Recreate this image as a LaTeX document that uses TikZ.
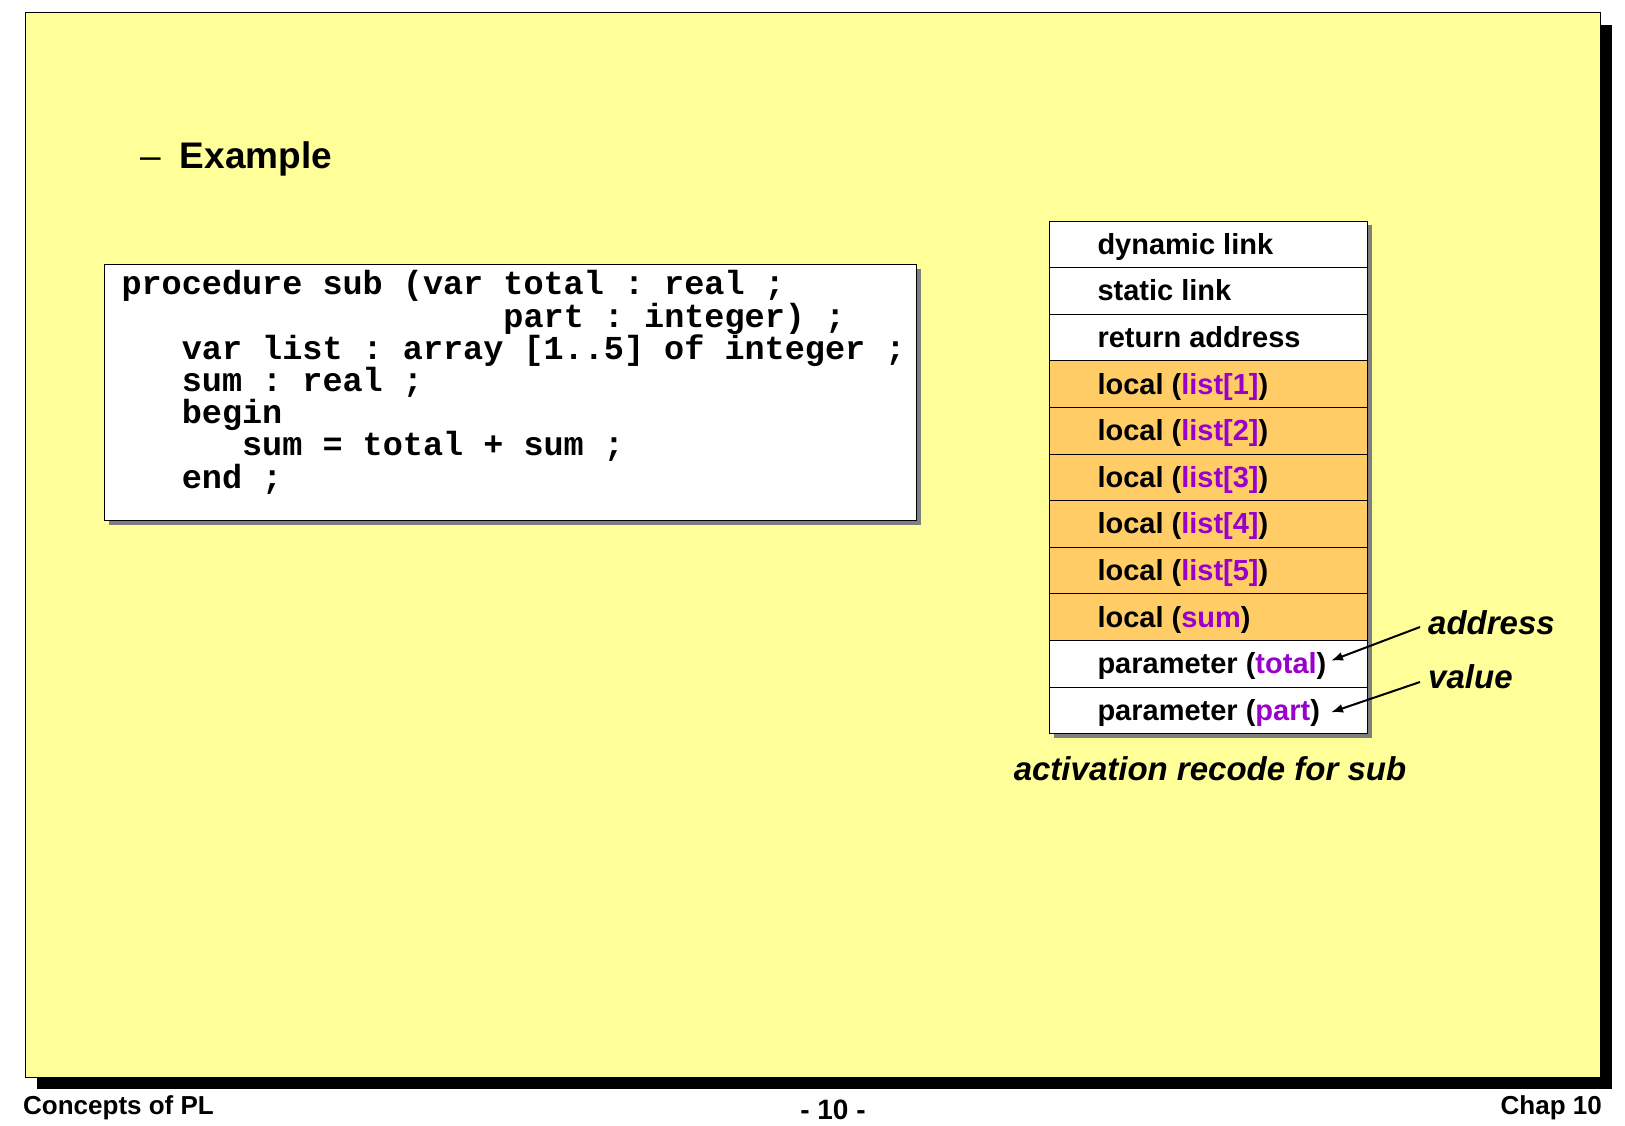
\documentclass[tikz,border=0pt]{standalone}
\usepackage{fontspec}
\setmainfont{Liberation Sans}
\setmonofont{Liberation Mono}
\usetikzlibrary{shadows, arrows.meta}

\definecolor{slideyellow}{HTML}{FFFF99}
\definecolor{localorange}{HTML}{FFCC66}
\definecolor{varpurple}{HTML}{9900CC}
\definecolor{shadowgray}{HTML}{7F7F7F}

\newcommand{\vname}[1]{\textcolor{varpurple}{#1}}
\newcommand{\recordtext}[1]{\makebox[222pt][l]{#1}}
\newcommand{\codefont}{\fontsize{33.5}{32.2}\selectfont\ttfamily\bfseries\frenchspacing}

\begin{document}
\begin{tikzpicture}[x=1pt, y=-1pt,
                    frame/.style={drop shadow={shadow xshift=4pt, shadow yshift=-4pt, fill=shadowgray, opacity=1}},
                    record/.style={frame, draw, line width=1pt, anchor=west, minimum height=46.6pt, inner xsep=48pt, inner ysep=0pt, text height=21pt, text depth=1pt, font=\fontsize{29}{34}\selectfont\bfseries},
                    white record/.style={record, fill=white},
                    local record/.style={record, fill=localorange},
                    note/.style={anchor=west, inner ysep=0pt, inner xsep=8pt, font=\fontsize{33}{38}\selectfont\bfseries\itshape},
                    pointer/.style={-{Latex[length=12pt, width=9pt]}, line width=2pt},
                    footer/.style={inner sep=0pt, font=\fontsize{26}{30}\selectfont\bfseries}]
  \useasboundingbox (0,0) rectangle (1625,1125);

  % slide background
  \fill[black] (37,25) rectangle (1612,1089);
  \draw[fill=slideyellow, line width=1pt] (25,12) rectangle (1600,1077);

  \node[anchor=base west, inner sep=0pt, font=\fontsize{37}{44}\selectfont] (title) at (140,168) {\textendash\hspace{19pt}\textbf{Example}};

  % source code
  \node[frame, draw, fill=white, line width=1pt, anchor=north west, minimum width=812pt, minimum height=256pt, text width=778pt, inner xsep=17pt, align=none, font=\codefont] (code) at (104,264) {
    procedure sub (var total : real ;\\
    \phantom{procedure sub (var }part : integer) ;\\
    \mbox{\hspace*{1.8em}var list : array [1..5] of integer ;}\\
    \hspace*{1.8em}sum : real ;\\
    \hspace*{1.8em}begin\\
    \hspace*{3.6em}sum = total + sum ;\\
    \hspace*{1.8em}end ;\\[-6pt]
    \mbox{}
  };

  % activation record
  \node[white record] (dlink) at (1049,244.3) {\recordtext{dynamic link}};
  \node[white record] (slink) at (1049,290.9) {\recordtext{static link}};
  \node[white record] (raddr) at (1049,337.5) {\recordtext{return address}};
  \node[local record] (loc1) at (1049,384.1) {\recordtext{local (\vname{list[1]})}};
  \node[local record] (loc2) at (1049,430.7) {\recordtext{local (\vname{list[2]})}};
  \node[local record] (loc3) at (1049,477.3) {\recordtext{local (\vname{list[3]})}};
  \node[local record] (loc4) at (1049,523.9) {\recordtext{local (\vname{list[4]})}};
  \node[local record] (loc5) at (1049,570.5) {\recordtext{local (\vname{list[5]})}};
  \node[local record] (locsum) at (1049,617.1) {\recordtext{local (\vname{sum})}};
  \node[white record] (partotal) at (1049,663.7) {\recordtext{parameter (\vname{total})}};
  \node[white record] (parpart) at (1049,710.3) {\recordtext{parameter (\vname{part})}};

  \node[note] (address) at (1420,623) {address};
  \node[note] (value) at (1420,677) {value};
  \draw[pointer] ([yshift=-4pt]address.west) -- ([xshift=-37pt,yshift=3pt]partotal.east);
  \draw[pointer] ([yshift=-5pt]value.west) -- ([xshift=-37pt,yshift=-2pt]parpart.east);

  \node[font=\fontsize{33}{38}\selectfont\bfseries\itshape] (caption) at (1210,769) {activation recode for sub};

  % footer
  \node[footer, anchor=west] (course) at (23,1108) {Concepts of PL};
  \node[footer, font=\fontsize{28}{32}\selectfont\bfseries] (page) at (833,1110) {- 10 -};
  \node[footer, anchor=east] (chapter) at (1602,1108) {Chap 10};
\end{tikzpicture}
\end{document}
